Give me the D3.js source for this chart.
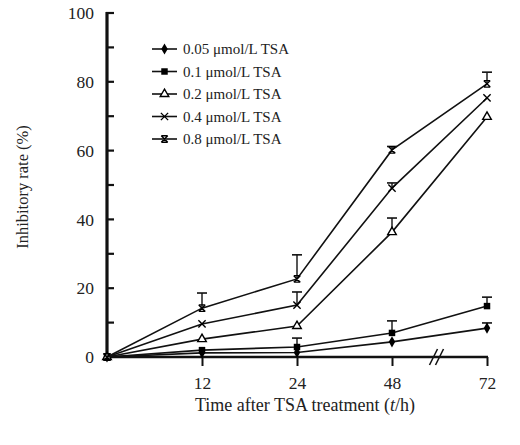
<!DOCTYPE html>
<html>
<head>
<meta charset="utf-8">
<script src="https://cdn.jsdelivr.net/npm/d3@7"></script>
<style>
  body { margin: 0; background: #fff; }
  text { font-family: "Liberation Serif", "Times New Roman", serif; fill: #222; }
</style>
</head>
<body>
<div id="chart"></div>
<script>
var width = 520, height = 445;

// time points (h), 0 is the origin with no label
var times = ["0", "12", "24", "48", "72"];
var tickLabels = ["12", "24", "48", "72"];
var yTicks = [0, 20, 40, 60, 80, 100];

var series = ["0.05 \u03bcmol/L TSA", "0.1 \u03bcmol/L TSA", "0.2 \u03bcmol/L TSA", "0.4 \u03bcmol/L TSA", "0.8 \u03bcmol/L TSA"];

var v005 = [0, 1.2, 1.3, 4.4, 8.4];
var v01  = [0, 2.0, 2.9, 7.0, 14.8];
var v02  = [0, 5.2, 9.0, 36.3, 69.8];
var v04  = [0, 9.6, 15.1, 49.1, 75.3];
var v08  = [0, 14.2, 22.7, 60.2, 79.4];

// upper error (sd), read from caps
var e005 = [0, 0, 0, 0, 1.5];
var e01  = [0, 0, 2.6, 3.5, 2.6];
var e02  = [0, 0, 0, 4.1, 0];
var e04  = [0, 0, 3.8, 1.5, 0];
var e08  = [0, 4.4, 7.0, 1.0, 3.4];

var values = [v005, v01, v02, v04, v08];
var errors = [e005, e01, e02, e04, e08];

var x = d3.scalePoint().domain(times).range([107, 487]);
var y = d3.scaleLinear().domain([0, 100]).range([357, 13]);

var svg = d3.select("#chart").append("svg")
    .attr("width", width)
    .attr("height", height);

// hourglass style marker for 0.8
var symbolHourglass = {
  draw: function(ctx, size) {
    var r = Math.sqrt(size) / 2;
    ctx.moveTo(-r, -r); ctx.lineTo(r, r);
    ctx.moveTo(r, -r); ctx.lineTo(-r, r);
    ctx.moveTo(-r, -r); ctx.lineTo(r, -r);
    ctx.moveTo(-r, r); ctx.lineTo(r, r);
  }
};

var markers = [
  {type: d3.symbolDiamond, size: 36, fill: "#000", stroke: "none"},
  {type: d3.symbolSquare, size: 42, fill: "#000", stroke: "none"},
  {type: d3.symbolTriangle, size: 32, fill: "#fff", stroke: "#000"},
  {type: d3.symbolX, size: 36, fill: "none", stroke: "#000"},
  {type: symbolHourglass, size: 42, fill: "none", stroke: "#000"}
];

// axes
var yAxis = d3.axisLeft(y).tickValues(yTicks).tickSize(0).tickPadding(13);
var gy = svg.append("g").attr("transform", "translate(107,0)").call(yAxis);
gy.select(".domain").remove();
gy.selectAll("text").style("font-size", "17.5px").attr("fill", "#222")
  .attr("font-family", "Liberation Serif");

svg.append("g").selectAll("line")
  .data(d3.range(10, 100, 10))
  .join("line")
  .attr("x1", 107).attr("x2", 114)
  .attr("y1", function(d) { return y(d); })
  .attr("y2", function(d) { return y(d); })
  .attr("stroke", "#111").attr("stroke-width", 2.2);

svg.append("line")
  .attr("x1", 107).attr("x2", 107)
  .attr("y1", y(100) - 1).attr("y2", y(0) + 2)
  .attr("stroke", "#111").attr("stroke-width", 3.2);
svg.append("line")
  .attr("x1", 106).attr("x2", 114)
  .attr("y1", y(100)).attr("y2", y(100))
  .attr("stroke", "#111").attr("stroke-width", 2.2);

var xAxis = d3.axisBottom(x).tickValues(tickLabels).tickSize(8).tickPadding(12);
var gx = svg.append("g").attr("transform", "translate(0," + y(0) + ")").call(xAxis);
gx.select(".domain").remove();
gx.selectAll(".tick line").attr("stroke", "#111").attr("stroke-width", 2).attr("y2", 9);
gx.selectAll("text").style("font-size", "17.5px").attr("fill", "#222")
  .attr("font-family", "Liberation Serif");

svg.append("line")
  .attr("x1", 104).attr("x2", x("72") + 1)
  .attr("y1", y(0)).attr("y2", y(0))
  .attr("stroke", "#111").attr("stroke-width", 2.5);

// axis break
var bx = (x("48") + x("72")) / 2 - 3;
[-3, 3].forEach(function(o) {
  svg.append("line")
    .attr("x1", bx + o - 4).attr("x2", bx + o + 4)
    .attr("y1", y(0) + 8).attr("y2", y(0) - 8)
    .attr("stroke", "#111").attr("stroke-width", 1.6);
});

// titles
svg.append("text")
  .attr("transform", "translate(28,187) rotate(-90)")
  .attr("text-anchor", "middle")
  .style("font-size", "16.5px")
  .text("Inhibitory rate (%)");

var xt = svg.append("text")
  .attr("x", 305).attr("y", 411)
  .attr("text-anchor", "middle")
  .style("font-size", "18px");
xt.append("tspan").text("Time after TSA treatment (");
xt.append("tspan").style("font-style", "italic").text("t");
xt.append("tspan").text("/h)");

var line = d3.line()
  .x(function(d, i) { return x(times[i]); })
  .y(function(d) { return y(d); });

// error bars
values.forEach(function(vals, s) {
  var g = svg.append("g");
  vals.forEach(function(v, i) {
    var e = errors[s][i];
    if (!e) return;
    var cx = x(times[i]);
    g.append("line").attr("x1", cx).attr("x2", cx)
      .attr("y1", y(v)).attr("y2", y(v + e))
      .attr("stroke", "#111").attr("stroke-width", 1.4);
    g.append("line").attr("x1", cx - 5).attr("x2", cx + 5)
      .attr("y1", y(v + e)).attr("y2", y(v + e))
      .attr("stroke", "#111").attr("stroke-width", 1.6);
  });
});

// lines and markers
values.forEach(function(vals, s) {
  svg.append("path")
    .datum(vals)
    .attr("d", line)
    .attr("fill", "none")
    .attr("stroke", "#111")
    .attr("stroke-width", 1.6);
  var m = markers[s];
  svg.append("g").selectAll("path")
    .data(vals)
    .join("path")
    .attr("transform", function(d, i) { return "translate(" + x(times[i]) + "," + y(d) + ")"; })
    .attr("d", d3.symbol().type(m.type).size(m.size))
    .attr("fill", m.fill)
    .attr("stroke", m.stroke)
    .attr("stroke-width", 1.4);
});

// legend
var legend = svg.append("g");
series.forEach(function(name, s) {
  var ly = 49 + s * 22.5;
  legend.append("line")
    .attr("x1", 152).attr("x2", 177)
    .attr("y1", ly).attr("y2", ly)
    .attr("stroke", "#111").attr("stroke-width", 1.6);
  var m = markers[s];
  legend.append("path")
    .attr("transform", "translate(164.5," + ly + ")")
    .attr("d", d3.symbol().type(m.type).size(m.size))
    .attr("fill", m.fill)
    .attr("stroke", m.stroke)
    .attr("stroke-width", 1.4);
  legend.append("text")
    .attr("x", 183).attr("y", ly + 5)
    .style("font-size", "15px")
    .text(name);
});
</script>
</body>
</html>
